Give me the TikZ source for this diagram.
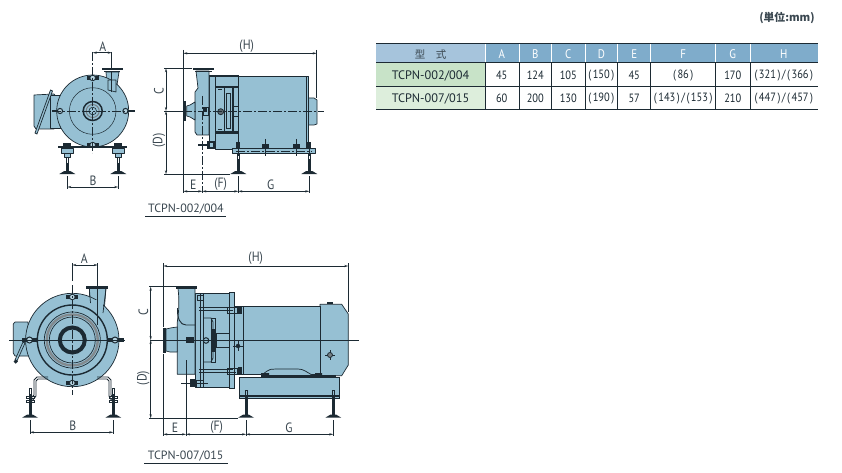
\documentclass[tikz,border=0pt]{standalone}
\usepackage{fontspec}
\setmainfont{PT Sans}
\newfontfamily\narrowf[FakeStretch=0.87]{PT Sans}
\newfontfamily\cjk{Noto Sans CJK JP}
\usetikzlibrary{arrows.meta}
\definecolor{pumpblue}{HTML}{96C0D3}
\definecolor{ink}{HTML}{1C2A33}
\definecolor{txt}{HTML}{3A4750}
\definecolor{hdA}{HTML}{A6C4DC}
\definecolor{hdB}{HTML}{7FACCB}
\definecolor{rowA}{HTML}{C8E3C8}
\definecolor{rowB}{HTML}{DDEEDC}
\newcommand{\pa}[1]{(\kern1.5pt#1\kern1.5pt)}
\newcommand{\pb}[2]{\pa{#1}\kern1.5pt/\kern1.5pt\pa{#2}}
\tikzset{
 body/.style={draw=ink,fill=pumpblue,line width=.7pt,line join=round},
 thin/.style={draw=ink,line width=.5pt},
 center/.style={draw=ink,line width=.6pt,dash pattern=on 9pt off 2pt on 2pt off 2pt},
 dim/.style={draw=ink,line width=.55pt,{Stealth[length=4pt,width=2.2pt,fill=gray!60]}-{Stealth[length=4pt,width=2.2pt,fill=gray!60]}},
 ext/.style={draw=ink,line width=.55pt},
 lab/.style={text=txt,font=\narrowf\fontsize{13.5}{14}\selectfont,inner sep=0pt},
 modelname/.style={text=txt,font=\fontsize{12}{13}\selectfont,inner sep=0pt},
 cell/.style={text=ink,font=\narrowf\fontsize{12}{13}\selectfont,inner sep=0pt},
 rowname/.style={text=ink,font=\fontsize{12.3}{13}\selectfont,inner sep=0pt},
 hcell/.style={text=white,font=\narrowf\fontsize{12.5}{13}\selectfont,inner sep=0pt},
}
\newcommand{\standfoot}[3]{% x, top, plate y
 \draw[ink,line width=.6pt] (#1-1,#2) rectangle (#1+1,#3-3);
 \draw[ink,line width=1.5pt] (#1,#2+6) -- (#1,#3-3);
 \fill[ink] (#1-8,#3) -- (#1-3,#3-3) -- (#1+3,#3-3) -- (#1+8,#3) -- cycle;
}
\newcommand{\bolt}[2]{% x,y
 \fill[ink] (#1-6,#2-1.8) rectangle (#1+6,#2+1.8);
 \filldraw[draw=ink,fill=pumpblue!70!white,line width=.8pt] (#1,#2) circle (2.8);
}
\begin{document}
\begin{tikzpicture}[x=1pt,y=-1pt]
\useasboundingbox (0,0) rectangle (842,473);
\fill[white] (0,0) rectangle (842,473);

% ---------- pump 002/004 front
\draw[body] (34,95) -- (54,94) -- (57,98) -- (57,126) -- (54,129) -- (36,129) -- (34,126) -- cycle;
\draw[body] (50,95) rectangle (60,128);
\draw[draw=ink,fill=pumpblue,line width=.7pt] (50.5,90) -- (52.5,91) -- (37,134) -- (35,133) -- cycle;
\draw[body] (106,72) -- (119,72) -- (117,85) -- (116,100) -- (108,100) -- (107,85) -- cycle;
\draw[body] (92.7,111) circle (36);
\draw[body] (108,80) -- (116,80) -- (116,92) -- (108,90) -- cycle;
\draw[ink,line width=1.8pt] (102,69) -- (123,69);
\draw[ink,line width=1pt] (104,71.5) -- (120,71.5);
\draw[thin] (92.7,111) circle (23.3);
\draw[ink,line width=1.5pt] (92.7,111) circle (9.5);
\draw[ink!60,line width=1pt] (92.7,111) circle (6.5);
\draw[ink,line width=.6pt] (92.7,111) circle (3.8);
\bolt{92.7}{78} \bolt{92.7}{145}
\draw[ink,line width=1.4pt] (58,147) -- (127,147);
\filldraw[draw=ink,fill=pumpblue!70!white,line width=1pt] (60,111) circle (2.6);
\filldraw[draw=ink,fill=pumpblue!70!white,line width=1pt] (125.5,111) circle (2.6);
\draw[ink,line width=1.2pt] (52,111) -- (58,111) (128,111) -- (135,111);
\draw[body] (61,148) rectangle (73,153);
\draw[body] (112,148) rectangle (124,153);
\fill[ink] (63,143) rectangle (71,147.5);
\fill[ink] (114,143) rectangle (122,147.5);
\draw[body] (64,153) rectangle (70,157);
\draw[body] (115,153) rectangle (121,157);
\standfoot{67.3}{157}{174}
\standfoot{118.3}{157}{174}
\draw[center] (92.7,52) -- (92.7,153);
\draw[center] (52,111) -- (132,111);
\draw[ext] (111.7,52) -- (111.7,68);
\draw[ext] (111.7,72) -- (111.7,92);
\draw[ext] (67.3,176) -- (67.3,189) (118.3,176) -- (118.3,189);
\draw[dim] (92.7,52.7) -- (111.7,52.7);
\draw[dim] (67.3,187) -- (118.3,187);
\node[lab] (a1) at (102.7,46.5) {A};
\node[lab] (b1) at (93,180.3) {B};

% ---------- pump 002/004 side
\draw[body] (308,98) -- (314,98) -- (317,100) -- (317,124) -- (314,125) -- (308,125) -- cycle;
\draw[body] (238.7,76.7) rectangle (306,148.3);
\draw[body] (306,76) rectangle (308.7,145);
\draw[body] (215.7,76.7) rectangle (238.7,149);
\draw[body] (209.3,75) rectangle (215.7,148.3);
\draw[body] (196,71) -- (209,71) -- (209,135) -- (197,135) -- (195,132) -- (195,92) -- (198,88) -- cycle;
\draw[body] (186.7,106) -- (190,105) -- (195,102) -- (195,120) -- (190,117) -- (186.7,116) -- cycle;
\fill[ink] (182.7,101) rectangle (186,120.7);
\draw[ink,line width=2pt] (192.7,69) -- (214,69);
\draw[ink,line width=1pt] (195,71.5) -- (212,71.5);
\draw[ink,line width=1.6pt] (209.3,76) -- (238.7,76);
\draw[ink,line width=1.6pt] (216,87) -- (238.7,87);
\draw[ink,line width=2.4pt] (216,132.5) -- (238.7,132.5);
\draw[ink,line width=1.5pt] (224.5,88) -- (224.5,131) (233,88) -- (233,131);
\draw[ink,line width=1pt] (218,90) -- (222,90) (218,130) -- (222,130);
\draw[thin] (226,93) rectangle (230,128);
\draw[thin] (233,106) -- (238.7,106) (233,116) -- (238.7,116);
\filldraw[draw=ink,fill=ink!70,line width=.8pt] (220.7,111.7) circle (3);
\draw[ink,line width=.8pt] (203,107) rectangle (208,115);
\fill[ink] (204,108) rectangle (207,112);
\draw[ink,line width=1.4pt] (198,145) -- (209,145);
\draw[ink,line width=1.1pt] (208,142) rectangle (214,148);
\draw[ink,line width=1.3pt] (215.7,76.7) -- (215.7,149) (238.7,76.7) -- (238.7,148.3);
% base
\draw[body] (232.3,148.3) rectangle (315.7,153.3);
\draw[center] (236,151) -- (312,151);
\fill[ink] (262,144) rectangle (269,148);
\fill[ink] (293,144) rectangle (300,148);
\draw[ext] (265.5,139) -- (265.5,156) (296.5,139) -- (296.5,156) (238.3,139) -- (238.3,156) (309.3,142) -- (309.3,156);
\fill[ink] (236,142) rectangle (240,148.3);
\fill[ink] (307,142) rectangle (311,148.3);
\standfoot{238.3}{153.3}{174}
\standfoot{309.3}{153.3}{174}
\draw[center] (183,111) -- (324,111);
\draw[center] (202.3,96) -- (202.3,193);
\draw[ext] (183.3,50) -- (183.3,101) (183.3,121) -- (183.3,193);
\draw[ext] (316.7,50) -- (316.7,98);
\draw[ext] (164,68.3) -- (192,68.3) (164,111) -- (183,111) (164,174.3) -- (230,174.3);
\draw[ext] (238.3,176) -- (238.3,193) (309.3,176) -- (309.3,193);
\draw[dim] (183.3,53.3) -- (316.7,53.3);
\draw[dim] (166,68.3) -- (166,111);
\draw[dim] (166,111) -- (166,174.3);
\draw[dim] (183.3,191.3) -- (202.3,191.3);
\draw[dim] (202.3,191.3) -- (238.3,191.3);
\draw[dim] (238.3,191.3) -- (309.3,191.3);
\node[lab] (h1) at (246.7,46) {(H)};
\node[lab,rotate=90] (c1) at (159,90.7) {C};
\node[lab,rotate=90] (d1) at (159,140.7) {(D)};
\node[lab] (e1) at (193.3,184.5) {E};
\node[lab] (f1) at (220.7,184.5) {(F)};
\node[lab] (g1) at (270.7,184.5) {G};
\node[modelname] (t1) at (186,209.5) {TCPN-002/004};
\draw[ext] (145,216.7) -- (226,216.7);

% ---------- table
\fill[hdA] (376,43.3) rectangle (485.7,62.3);
\fill[hdB] (485.7,43.3) rectangle (817.7,62.3);
\fill[rowA] (376,62.3) rectangle (485.7,86);
\fill[rowB] (376,86) rectangle (485.7,109.3);
\foreach \x in {485.7,519,551.7,585,617.7,650.7,715.7,750}
  \draw[white,line width=.9pt] (\x,43.3) -- (\x,62.3);
\draw[ink,line width=.8pt] (376,43.3) -- (817.7,43.3);
\draw[ink,line width=.7pt] (376,62.3) -- (817.7,62.3);
\draw[ink,line width=.6pt] (376,86) -- (817.7,86);
\draw[ink,line width=.8pt] (376,109.3) -- (817.7,109.3);
\foreach \x in {485.7,519,551.7,585,617.7,650.7,715.7,750}
  \draw[ink,line width=.6pt] (\x,62.3) -- (\x,109.3);
\node[text=txt,inner sep=0pt,font=\cjk\fontsize{10.5}{11}\selectfont] (t0) at (430.5,54.5) {型\hspace{1em}式};
\foreach \nm/\x/\t in {hA/501.7/A,hB/535.3/B,hC/568.3/C,hD/601.3/D,hE/634.2/E,hF/683.2/F,hG/732.8/G,hH/783.8/H}
  \node[hcell] (\nm) at (\x,54.2) {\t};
\node[rowname] (r1) at (430.5,75.5) {TCPN-002/004};
\node[rowname] (r2) at (430.5,98.5) {TCPN-007/015};
\foreach \nm/\x/\t in {rA/501.7/45,rB/535.3/124,rC/568.3/105,rE/634.2/45,rG/732.8/170}
  \node[cell] (\nm) at (\x,75.5) {\t};
\node[cell] (rD) at (601.3,75.5) {\pa{150}};
\node[cell] (rF) at (683.2,75.5) {\pa{86}};
\node[cell] (rH) at (783.8,75.5) {\pb{321}{366}};
\foreach \nm/\x/\t in {sA/501.7/60,sB/535.3/200,sC/568.3/130,sE/634.2/57,sG/732.8/210}
  \node[cell] (\nm) at (\x,98.5) {\t};
\node[cell] (sD) at (601.3,98.5) {\pa{190}};
\node[cell] (sF) at (683.2,98.5) {\pb{143}{153}};
\node[cell] (sH) at (783.8,98.5) {\pb{447}{457}};
\node[text=txt,inner sep=0pt,font=\cjk\bfseries\fontsize{10.8}{11}\selectfont] (unit) at (787,18) {(単位:mm)};

% ---------- pump 007/015 front
\draw[body] (15,322) -- (28,322) -- (30,356) -- (15,356) -- (13.3,353) -- (13.3,324) -- cycle;
\draw[body] (89.5,288) -- (106,288) -- (103,325) -- (90,325) -- cycle;
\draw[body] (72.3,340) circle (46.7);
\draw[draw=none,fill=pumpblue] (91,300) rectangle (103,316);
\draw[ink,line width=.7pt] (89.3,288) -- (90.5,303) (106,288) -- (103,313);
\draw[ink,line width=2.4pt] (86,287.5) -- (107.7,287.5);
\draw[ink,line width=1.4pt] (72.3,340) circle (35);
\draw[ink,line width=.7pt] (72.3,340) circle (28);
\draw[ink!55,line width=2.4pt] (72.3,340) circle (25.5);
\draw[ink,line width=.7pt] (72.3,340) circle (23);
\draw[ink,line width=4pt] (72.3,340) circle (12.5);
\draw[body] (23,342) -- (25,343) -- (17,361) -- (15,360) -- cycle;
\filldraw[ink] (15.8,361.5) circle (1.8);
\draw[ink,line width=.9pt] (48,377) -- (37,377) -- (34,380) -- (34,395) -- (30,399);
\draw[ink,line width=.9pt] (48,379) -- (38,379) -- (36,381) -- (36,396) -- (32,401);
\draw[ink,line width=.9pt] (97,377) -- (108,377) -- (111,380) -- (111,395) -- (114,399);
\draw[ink,line width=.9pt] (97,379) -- (107,379) -- (109,381) -- (109,396) -- (112,401);
\draw[ink,line width=.9pt] (26,396) rectangle (34.5,398.5) (26,400) rectangle (34.5,402.5);
\draw[ink,line width=.9pt] (109,396) rectangle (117.5,398.5) (109,400) rectangle (117.5,402.5);
\standfoot{30}{388}{417.7}
\standfoot{113.3}{388}{417.7}
\bolt{72.3}{297} \bolt{72.3}{383}
\fill[ink] (22,338) rectangle (38,342);
\fill[ink] (107,338) rectangle (124,342);
\filldraw[draw=ink,fill=pumpblue!70!white,line width=1pt] (29.5,340) circle (3);
\filldraw[draw=ink,fill=pumpblue!70!white,line width=1pt] (115,340) circle (3);
\draw[center] (72.3,285) -- (72.3,395);
\draw[ext] (9.3,340) -- (125,340);
\draw[ext] (72.3,263) -- (72.3,281);
\draw[ext] (97.7,263) -- (97.7,325);
\draw[ext] (30,420) -- (30,434) (113.3,420) -- (113.3,434);
\draw[dim] (72.3,265) -- (97.7,265);
\draw[dim] (30,432.3) -- (113.3,432.3);
\node[lab] (a2) at (84.3,258.3) {A};
\node[lab] (b2) at (72.7,425.7) {B};

% ---------- pump 007/015 side
\draw[body] (320,304.3) -- (341.7,304.3) -- (348.3,314) -- (348.3,365) -- (341.7,375.7) -- (320,375.7) -- cycle;
\draw[body] (243.3,306) rectangle (320,374.3);
\draw[body] (234.3,306) rectangle (243.3,374.3);
\fill[ink] (327,301.5) rectangle (333,304.3);
\draw[body] (203.3,293.5) rectangle (229.3,387);
\draw[body] (229.3,292.3) rectangle (234.3,388.3);
\draw[body] (195,293.3) rectangle (203.3,387.7);
\draw[body] (178,288.5) -- (195,288.5) -- (195,374.3) -- (177.3,374.3) -- (177.3,322) .. controls (178,316) and (180,305) .. cycle;
\draw[body] (166,329) -- (172,327.7) -- (177.3,327) -- (177.3,352) -- (170,352) -- (166,351) -- cycle;
\fill[ink] (163.3,327.7) rectangle (166,353.3);
\draw[ink,line width=2.6pt] (176,287.5) -- (197.3,287.5);
\draw[ink,line width=.9pt] (177.5,308) .. controls (177,318) and (180,325) .. (186,325) -- (195,325);
% motor base
\draw[draw=ink,fill=pumpblue,line width=.7pt] (262,375) .. controls (270,368) and (272,369) .. (276,369) -- (298,369) .. controls (304,369) and (306,372) .. (314,376);
\draw[draw=ink,fill=pumpblue,line width=1.1pt] (239.3,377.3) rectangle (339.3,398.3);
\draw[ink,line width=1.1pt] (239.3,396) -- (339.3,396);
\fill[ink] (261,373) rectangle (269,377) (315,373) rectangle (322,377);
\draw[ink,line width=1.1pt] (262,376) -- (336,376);
% internals
\draw[ink,line width=.8pt] (199,307) -- (236,307) (199,372) -- (236,372);
\draw[ink,line width=.5pt] (199,310) -- (233,310) (199,369) -- (233,369);
\draw[ink,line width=.8pt] (203,318) -- (211,318) -- (213,322) -- (213,358) -- (211,362) -- (203,362);
\draw[ink,line width=1pt] (211,318) rectangle (215,362);
\draw[ink,line width=3.5pt] (213.5,329) -- (213.5,352);
\draw[thin] (216,333.5) rectangle (229,347);
\filldraw[draw=ink,fill=pumpblue,line width=1pt] (206,340.5) circle (2.8);
\fill[ink] (186,337) rectangle (194,343);
\draw[ink,line width=1pt] (229.3,292.3) rectangle (234.3,388.3);
\draw[thin] (200,293.5) -- (200,387) (203.3,293.5) -- (203.3,387);
\fill[ink] (238,306) rectangle (241.5,314);
\fill[ink] (238,367) rectangle (241.5,375);
\draw[ink,line width=.9pt] (227,307) rectangle (237,313) (227,368) rectangle (237,374);
\draw[ink,line width=1pt] (197,295) rectangle (203,300);
\fill[ink] (190,379) rectangle (196,387);
\draw[ink,line width=1pt] (196,380) rectangle (203,387);
\draw[ink,line width=.7pt] (181,383) -- (208,383);
\draw[ink,line width=.7pt] (238,341) -- (238,351) (233,346) -- (243,346);
\filldraw[ink] (238,346) circle (2);
\draw[ink,line width=.7pt] (330,350) -- (330,360) (325,355) -- (335,355);
\filldraw[draw=ink,fill=ink!60,line width=.8pt] (330,355) circle (2.5);
\standfoot{246}{390}{417.7}
\standfoot{333.3}{390}{417.7}
\draw[ext] (150,340) -- (359,340);
\draw[ext] (186,360) -- (186,436);
\draw[ext] (163.3,263) -- (163.3,327) (163.3,354) -- (163.3,436);
\draw[ext] (348.3,263) -- (348.3,312);
\draw[ext] (149,286.7) -- (176,286.7) (149,418.3) -- (238,418.3);
\draw[ext] (246,420) -- (246,436) (333.3,420) -- (333.3,436);
\draw[dim] (163.3,266) -- (348.3,266);
\draw[dim] (150.7,286.7) -- (150.7,340);
\draw[dim] (150.7,340) -- (150.7,418.3);
\draw[dim] (163.3,434.3) -- (186,434.3);
\draw[dim] (186,434.3) -- (246,434.3);
\draw[dim] (246,434.3) -- (333.3,434.3);
\node[lab] (h2) at (255.7,258.3) {(H)};
\node[lab,rotate=90] (c2) at (143.3,311.7) {C};
\node[lab,rotate=90] (d2) at (143.3,378) {(D)};
\node[lab] (e2) at (175,427.3) {E};
\node[lab] (f2) at (216.7,427.3) {(F)};
\node[lab] (g2) at (289,427.3) {G};
\node[modelname] (t2) at (185.7,455.7) {TCPN-007/015};
\draw[ext] (144,463.3) -- (227.7,463.3);
\end{tikzpicture}
\end{document}
